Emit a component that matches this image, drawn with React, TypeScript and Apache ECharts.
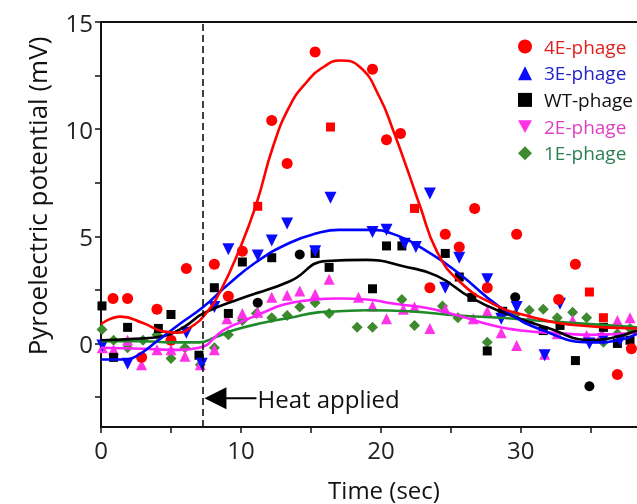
import React, { useEffect, useRef } from "react";
import * as echarts from "echarts";

// ---- Data ----
const seriesNames = ["4E-phage", "3E-phage", "WT-phage", "2E-phage", "1E-phage"];
const xTicks = [0, 5, 10, 15, 20, 25, 30, 35];
const xLabels = [0, 10, 20, 30];
const yTicks = [-2.5, 0, 2.5, 5, 7.5, 10, 12.5, 15];
const yLabels = [0, 5, 10, 15];
const heatX = 7.25;
const heatLabel = "Heat applied";

const red4ECircles = [
  [0.86, 2.1], [1.9, 2.1], [2.9, -0.65], [4.0, 1.6], [5.0, 0.15], [6.1, 3.5], [8.1, 3.7], [9.1, 2.2],
  [10.1, 4.3], [12.2, 10.4], [13.3, 8.4], [15.3, 13.6], [19.4, 12.8], [20.4, 9.5], [21.4, 9.8],
  [23.5, 2.6], [24.6, 5.1], [25.6, 4.5], [26.7, 6.3], [27.6, 2.6], [29.7, 5.1], [32.7, 2.05],
  [33.9, 3.7], [36.9, -1.45], [37.9, -0.25],
];
const red4ESquares = [[11.2, 6.4], [16.4, 10.1], [22.4, 6.3], [34.9, 2.4], [35.9, 1.2]];
const blue3E = [
  [0.1, -0.1], [1.9, -0.95], [6.1, 0.5], [7.2, -0.95], [8.1, 1.7], [9.1, 4.4], [11.2, 4.1], [12.2, 4.8],
  [13.3, 5.6], [15.3, 4.3], [16.4, 6.8], [19.4, 5.2], [20.4, 5.3], [21.7, 4.65], [22.5, 4.5],
  [23.5, 7.0], [24.6, 2.6], [25.6, 4.0], [27.6, 3.0], [28.6, 1.15], [29.7, 1.7], [31.7, -0.55],
  [32.8, 1.85], [34.9, 0], [35.9, 0.2], [37.1, 0.15],
];
const blackWTSquares = [
  [0.07, 1.75], [0.9, -0.65], [1.9, 0.75], [4.1, 0.7], [5.0, 1.35], [7.0, -0.55], [8.1, 2.6], [9.1, 1.4],
  [10.1, 3.8], [12.2, 4.0], [15.3, 4.2], [16.3, 3.55], [19.4, 2.55], [20.4, 4.55], [21.5, 4.55],
  [24.6, 4.2], [25.6, 3.1], [26.5, 2.15], [27.6, -0.35], [28.7, 1.5], [31.6, 0.6], [32.8, 0.84],
  [33.9, -0.8], [35.9, 0.75], [36.9, 0], [37.8, 0.15],
];
const blackWTCircles = [[11.2, 1.9], [14.2, 4.15], [29.6, 2.15], [34.9, -2.0]];
const pink2E = [
  [0.1, -0.2], [0.9, -0.3], [1.9, 0.15], [2.9, -1.0], [4.0, -0.3], [5.0, -0.3], [6.0, -0.6], [7.1, -1.0],
  [8.1, -0.3], [9.0, 1.15], [10.1, 1.4], [11.2, 1.45], [12.2, 2.15], [13.3, 2.25], [14.2, 2.45],
  [15.3, 2.3], [16.3, 3.0], [18.4, 2.15], [19.4, 1.75], [20.4, 1.15], [21.6, 1.6], [22.4, 1.7],
  [23.5, 0.7], [24.6, 1.6], [26.6, 1.15], [27.6, 1.5], [28.6, 0.5], [29.7, -0.1], [30.6, 1.15],
  [31.7, -0.5], [32.6, 0.45], [33.7, 1.07], [34.7, 0.37], [35.8, 0.45], [36.9, 1.07], [37.8, 1.2],
];
const green1E = [
  [0.07, 0.65], [0.9, 0.15], [1.9, -0.2], [3.0, 0.15], [4.0, 0.4], [5.0, -0.7], [6.0, -0.2], [7.1, -1.0],
  [8.1, -0.2], [9.1, 0.4], [10.1, 1.07], [11.1, 1.4], [12.2, 1.2], [13.3, 1.3], [14.2, 1.7],
  [15.3, 1.9], [16.3, 1.4], [18.3, 0.75], [19.4, 0.75], [21.5, 2.05], [22.4, 0.84], [24.4, 1.75],
  [25.5, 1.2], [27.6, 0.05], [29.6, 1.35], [30.6, 1.55], [31.6, 1.6], [32.6, 1.2], [33.7, 1.45],
  [34.7, 1.2], [35.9, 0.05], [36.9, 0.45], [37.8, 0.7],
];

const fit4E = [
  [0, 0.9], [1.4, 1.25], [3, 0.95], [4.5, 0.55], [5.5, 0.5], [6.5, 0.8], [7.5, 1.4], [8.5, 2.4],
  [9.9, 4.4], [11.1, 6.5], [12.3, 9.2], [13.5, 11.1], [14.7, 12.2], [15.9, 12.9], [17.1, 13.2],
  [18.5, 12.9], [19.9, 11.5], [20.9, 9.9], [21.9, 8.1], [22.8, 6.4], [24, 4.3], [25.6, 2.9],
  [28, 1.85], [30.4, 1.3], [34, 0.85], [38.3, 0.7],
];
const fit3E = [
  [0, -0.75], [1.5, -0.75], [2.5, -0.6], [4, 0.1], [5.5, 0.85], [7.3, 1.7], [9, 2.7], [11.1, 3.8],
  [13.5, 4.7], [15.5, 5.15], [17, 5.3], [19.2, 5.3], [20.9, 5.1], [23.3, 4.3], [25.6, 3.25],
  [28.5, 1.7], [31.6, 0.6], [35.1, 0.05], [37, 0.15], [38.3, 0.45],
];
const fitWT = [
  [0, 0.15], [2, 0.2], [4.5, 0.35], [6, 0.8], [7.3, 1.4], [10, 2.1], [13.5, 2.9], [16.1, 3.85],
  [19, 3.9], [21.6, 3.6], [24, 3.15], [26.4, 2.15], [28.7, 1.45], [31.8, 0.75], [35.1, 0.15],
  [36.5, 0.25], [38.3, 0.6],
];
const fit2E = [
  [0, -0.2], [3, -0.25], [5, -0.3], [7, -0.2], [8.7, 0.6], [10, 1.0], [11.6, 1.44], [13, 1.8],
  [14.7, 2.0], [17, 2.1], [19, 2.05], [21, 1.85], [23.3, 1.65], [25.5, 1.3], [28, 0.84], [30, 0.6],
  [32.8, 0.47], [35, 0.4], [38.3, 0.5],
];
const fit1E = [
  [0, 0.1], [3, 0.1], [5, 0.05], [7, 0.05], [8.2, 0.3], [9.4, 0.6], [11.5, 0.95], [13.5, 1.2],
  [15.5, 1.45], [17, 1.5], [19, 1.55], [22, 1.5], [25.6, 1.3], [28.5, 1.2], [31.1, 1.07],
  [35, 0.9], [38.3, 0.75],
];

const FONT = "'Open Sans', 'Noto Sans', sans-serif";
const DOWN_TRI = "path://M0,0 L10,0 L5,9 Z";

export default function App() {
  const ref = useRef<HTMLDivElement>(null);
  useEffect(() => {
    if (!ref.current) return;
    const chart = echarts.init(ref.current, null, { renderer: "svg" });
    const scatter = (name: string, data: number[][], symbol: string, size: number, color: string, z = 3) => ({
      type: "scatter",
      name,
      data,
      symbol,
      symbolSize: size,
      itemStyle: { color, opacity: 1 },
      z,
      silent: true,
    });
    const fit = (data: number[][], color: string) => ({
      type: "line",
      data,
      smooth: 0.5,
      showSymbol: false,
      symbol: "none",
      lineStyle: { color, width: 2.6 },
      z: 4,
      silent: true,
    });
    const legendText = (color: string) => ({ color, padding: [0, 0, 0, 7] });
    const option: any = {
      animation: false,
      textStyle: { fontFamily: FONT },
      grid: { left: 101, top: 22, right: 0, bottom: 77 },
      xAxis: [
        {
          type: "value",
          min: 0,
          max: 38.3,
          axisLine: { onZero: false, lineStyle: { color: "#111", width: 2 } },
          axisTick: { show: true, customValues: xTicks, length: 6, lineStyle: { color: "#111", width: 1.5 } },
          axisLabel: { customValues: xLabels, fontSize: 24, color: "#222", margin: 10, fontFamily: FONT },
          splitLine: { show: false },
        },
        {
          type: "value",
          position: "top",
          min: 0,
          max: 38.3,
          axisLine: { show: true, onZero: false, lineStyle: { color: "#111", width: 2 } },
          axisTick: { show: false },
          axisLabel: { show: false },
          splitLine: { show: false },
        },
      ],
      yAxis: {
        type: "value",
        min: -3.9,
        max: 15,
        axisLine: { show: true, onZero: false, lineStyle: { color: "#111", width: 2 } },
        axisTick: { show: true, customValues: yTicks, length: 6, lineStyle: { color: "#111", width: 1.5 } },
        axisLabel: { customValues: yLabels, fontSize: 24, color: "#222", margin: 8, fontFamily: FONT },
        splitLine: { show: false },
      },
      legend: {
        orient: "vertical",
        left: 513,
        top: 32,
        itemWidth: 14,
        itemHeight: 14,
        itemGap: 7.7,
        textStyle: { fontSize: 19, fontFamily: FONT },
        data: [
          { name: seriesNames[0], icon: "circle", textStyle: legendText("#dd2222") },
          { name: seriesNames[1], icon: "triangle", textStyle: legendText("#2222cc") },
          { name: seriesNames[2], icon: "rect", textStyle: legendText("#111111") },
          { name: seriesNames[3], icon: DOWN_TRI, textStyle: legendText("#e040c0") },
          { name: seriesNames[4], icon: "diamond", textStyle: legendText("#2a8050") },
        ],
      },
      series: [
        scatter(seriesNames[4], green1E, "diamond", 11, "#3f8a2e"),
        scatter(seriesNames[3], pink2E, "triangle", 11, "#ff33e6"),
        scatter(seriesNames[2], blackWTSquares, "rect", 9, "#000000"),
        scatter("WT circles", blackWTCircles, "circle", 10, "#000000"),
        scatter(seriesNames[1], blue3E, DOWN_TRI, 12, "#0a0aff"),
        scatter(seriesNames[0], red4ECircles, "circle", 11, "#ff0000"),
        scatter("4E squares", red4ESquares, "rect", 9, "#ff0000"),
        fit(fit1E, "#1f8a2a"),
        fit(fit2E, "#ff22ff"),
        fit(fitWT, "#000000"),
        fit(fit3E, "#0000ff"),
        {
          ...fit(fit4E, "#ff0000"),
          markLine: {
            silent: true,
            symbol: "none",
            label: { show: false },
            lineStyle: { color: "#000", width: 1.5, type: [7, 4] },
            data: [{ xAxis: heatX }],
          },
        },
      ],
    };
    chart.setOption(option);

    const tip = chart.convertToPixel({ gridIndex: 0 }, [heatX, -2.56]) as number[];
    const tx = tip[0] + 2;
    const ty = tip[1];
    chart.setOption({
      graphic: [
        {
          type: "polygon",
          shape: { points: [[tx, ty], [tx + 22, ty - 11], [tx + 22, ty + 11]] },
          style: { fill: "#000" },
          z: 10,
        },
        {
          type: "line",
          shape: { x1: tx + 20, y1: ty, x2: tx + 52, y2: ty },
          style: { stroke: "#000", lineWidth: 2 },
          z: 10,
        },
        {
          type: "text",
          x: tx + 53,
          y: ty,
          style: { text: heatLabel, font: `24px ${FONT}`, fill: "#111", textAlign: "left", textVerticalAlign: "middle" },
          z: 10,
        },
        {
          type: "text",
          x: 37,
          y: 196,
          rotation: Math.PI / 2,
          style: {
            text: "Pyroelectric potential (mV)",
            font: `26px ${FONT}`,
            fill: "#111",
            textAlign: "center",
            textVerticalAlign: "middle",
          },
        },
        {
          type: "text",
          x: 384,
          y: 489,
          style: { text: "Time (sec)", font: `24px ${FONT}`, fill: "#111", textAlign: "center", textVerticalAlign: "middle" },
        },
      ],
    });
    return () => chart.dispose();
  }, []);
  return <div ref={ref} style={{ position: "fixed", left: 0, top: 0, width: 637, height: 504 }} />;
}
